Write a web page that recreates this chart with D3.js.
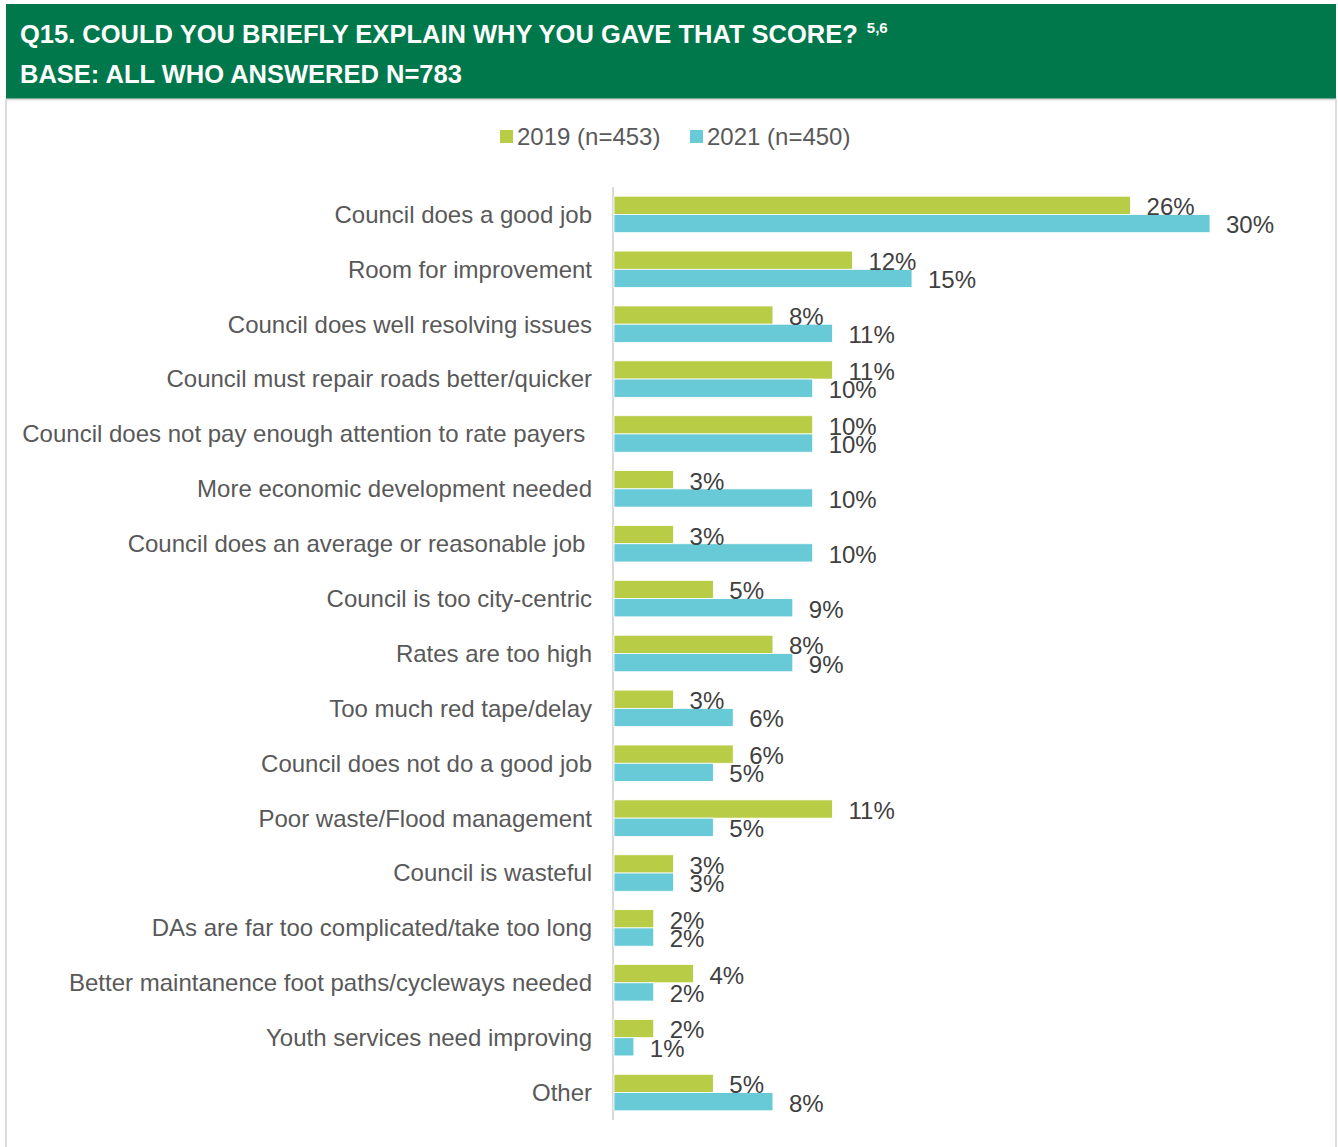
<!DOCTYPE html>
<html>
<head>
<meta charset="utf-8">
<script src="https://cdn.jsdelivr.net/npm/d3@7"></script>
<style>
  html, body { margin: 0; padding: 0; background: #ffffff; }
  svg { display: block; font-family: "Liberation Sans", Arial, sans-serif; }
  text { white-space: pre; }
</style>
</head>
<body>
<svg id="chart" width="1338" height="1147"></svg>
<script>
// Survey responses: reasons given for the score, by survey year
const categories = [
  "Council does a good job",
  "Room for improvement",
  "Council does well resolving issues",
  "Council must repair roads better/quicker",
  "Council does not pay enough attention to rate payers ",
  "More economic development needed",
  "Council does an average or reasonable job ",
  "Council is too city-centric",
  "Rates are too high",
  "Too much red tape/delay",
  "Council does not do a good job",
  "Poor waste/Flood management",
  "Council is wasteful",
  "DAs are far too complicated/take too long",
  "Better maintanence foot paths/cycleways needed",
  "Youth services need improving",
  "Other"
];
const series = ["2019 (n=453)", "2021 (n=450)"];
const values2019 = [26, 12, 8, 11, 10, 3, 3, 5, 8, 3, 6, 11, 3, 2, 4, 2, 5];
const values2021 = [30, 15, 11, 10, 10, 10, 10, 9, 9, 6, 5, 5, 3, 2, 2, 1, 8];
const titleLine1 = "Q15. COULD YOU BRIEFLY EXPLAIN WHY YOU GAVE THAT SCORE?";
const titleSup = "5,6";
const titleLine2 = "BASE: ALL WHO ANSWERED N=783";

const colors = ["#b8cc46", "#69cad7"];
const svg = d3.select("#chart");

// Header band
svg.append("rect").attr("x", 6).attr("y", 4).attr("width", 1330).attr("height", 95)
  .attr("fill", "#00784b");
// Frame around the chart body
svg.append("path")
  .attr("d", "M6,1147 V99.5 H1336 V1147")
  .attr("fill", "none").attr("stroke", "#dcdcdc").attr("stroke-width", 2);

const t1 = svg.append("text").attr("x", 20).attr("y", 43)
  .attr("fill", "#fff").attr("font-weight", "bold").attr("font-size", 25.5)
  .text(titleLine1);
const t1w = t1.node().getComputedTextLength();
svg.append("text").attr("x", 20 + t1w + 9).attr("y", 33)
  .attr("fill", "#fff").attr("font-weight", "bold").attr("font-size", 15)
  .text(titleSup);
svg.append("text").attr("x", 20).attr("y", 83)
  .attr("fill", "#fff").attr("font-weight", "bold").attr("font-size", 25.5)
  .text(titleLine2);

// Scales
const x = d3.scaleLinear().domain([0, 30]).range([614, 1210]);
const y0 = d3.scaleBand().domain(categories).range([187, 1120])
  .paddingInner(0.335).paddingOuter(0.1675);
const y1 = d3.scaleBand().domain(series).range([0, y0.bandwidth()]);

const rows = categories.map((c, i) => ({
  cat: c,
  vals: [
    { s: series[0], v: values2019[i], color: colors[0] },
    { s: series[1], v: values2021[i], color: colors[1] }
  ]
}));

// Category axis (labels only, with a light vertical line)
const yAxis = d3.axisLeft(y0).tickSize(0).tickPadding(0);
const gAxis = svg.append("g").attr("transform", "translate(592,0)").call(yAxis);
gAxis.select(".domain").remove();
gAxis.selectAll("text")
  .attr("font-size", 24).attr("fill", "#595959")
  .attr("font-family", "Liberation Sans, Arial, sans-serif")
  .attr("dy", "0.35em");

svg.append("line")
  .attr("x1", x(0) - 1).attr("x2", x(0) - 1)
  .attr("y1", 187).attr("y2", 1120)
  .attr("stroke", "#d9d9d9").attr("stroke-width", 2);

const groups = svg.append("g").selectAll("g").data(rows).join("g")
  .attr("transform", d => `translate(0,${y0(d.cat)})`);

groups.selectAll("rect").data(d => d.vals).join("rect")
  .attr("x", x(0))
  .attr("y", d => y1(d.s))
  .attr("width", d => x(d.v) - x(0))
  .attr("height", y1.bandwidth())
  .attr("fill", d => d.color)
  .attr("stroke", "#ffffff").attr("stroke-width", 0.8);

groups.selectAll("text.val").data(d => d.vals).join("text")
  .attr("class", "val")
  .attr("x", d => x(d.v) + 16)
  .attr("y", d => y1(d.s) + y1.bandwidth() / 2 + 1.5)
  .attr("dy", "0.35em")
  .attr("font-size", 24).attr("fill", "#404040")
  .text(d => d.v + "%");

// Legend
const legend = svg.append("g");
const legendX = [500, 690];
series.forEach((s, i) => {
  legend.append("rect").attr("x", legendX[i]).attr("y", 130)
    .attr("width", 13).attr("height", 13).attr("fill", colors[i]);
  legend.append("text").attr("x", legendX[i] + 17).attr("y", 137).attr("dy", "0.35em")
    .attr("font-size", 24).attr("fill", "#595959").text(s);
});
</script>
</body>
</html>
